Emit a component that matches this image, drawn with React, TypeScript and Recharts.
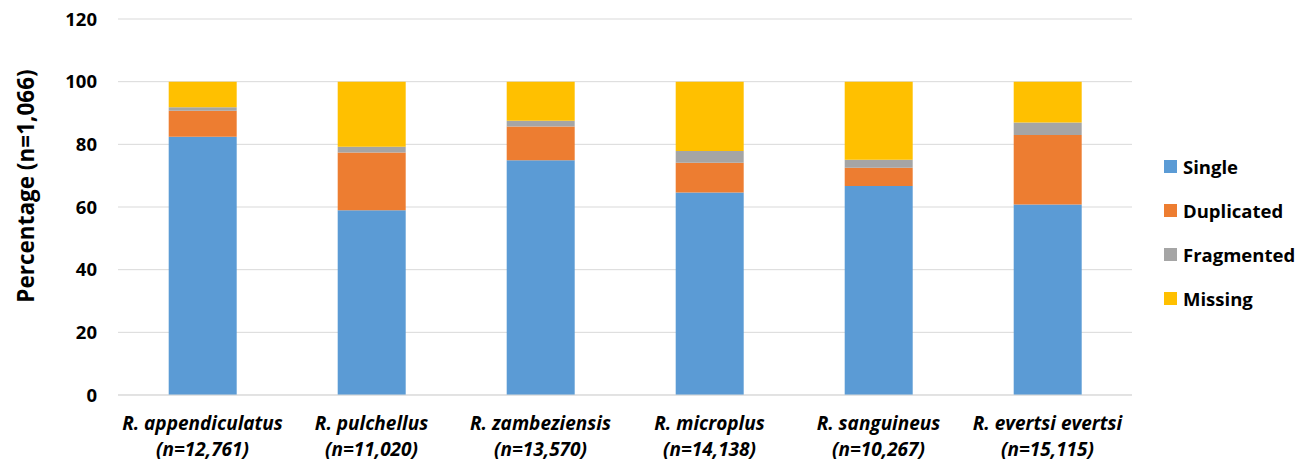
import React from "react";
import {
  BarChart,
  Bar,
  XAxis,
  YAxis,
  CartesianGrid,
  Legend,
} from "recharts";

const categories = [
  "R. appendiculatus",
  "R. pulchellus",
  "R. zambeziensis",
  "R. microplus",
  "R. sanguineus",
  "R. evertsi evertsi",
];
const geneCounts = ["12,761", "11,020", "13,570", "14,138", "10,267", "15,115"];

const single = [82.4, 59.0, 74.9, 64.6, 66.7, 60.8];
const duplicated = [8.3, 18.4, 10.8, 9.5, 5.8, 22.2];
const fragmented = [1.1, 1.8, 1.8, 3.8, 2.6, 4.0];
const missing = [8.2, 20.8, 12.5, 22.1, 24.9, 13.0];

const yTicks = [0, 20, 40, 60, 80, 100, 120];

const series = [
  { key: "Single", values: single, color: "#5B9BD5" },
  { key: "Duplicated", values: duplicated, color: "#ED7D31" },
  { key: "Fragmented", values: fragmented, color: "#A5A5A5" },
  { key: "Missing", values: missing, color: "#FFC000" },
];

const data = categories.map((name, i) => {
  const row: Record<string, string | number> = { name, count: geneCounts[i] };
  series.forEach((s) => {
    row[s.key] = s.values[i];
  });
  return row;
});

const FONT = "'Open Sans', Lato, sans-serif";

// two-line category label: species name, then gene count
function SpeciesTick(props: any) {
  const { x, y, payload, index } = props;
  return (
    <text
      x={x}
      y={y}
      textAnchor="middle"
      fill="#000"
      fontSize={19}
      fontWeight={700}
      fontStyle="italic"
      fontFamily={FONT}
    >
      <tspan x={x} dy={35}>
        {payload.value}
      </tspan>
      <tspan x={x} dy={26}>
        (n={geneCounts[index ?? categories.indexOf(payload.value)]})
      </tspan>
    </text>
  );
}

function YTitle(props: any) {
  const { viewBox } = props;
  const cx = viewBox.x + 25;
  const cy = viewBox.y + viewBox.height / 2 - 21;
  return (
    <text
      x={cx}
      y={cy}
      transform={`rotate(-90, ${cx}, ${cy})`}
      textAnchor="middle"
      dominantBaseline="central"
      fontSize={22.5}
      fontWeight={700}
      fontFamily={FONT}
      fill="#000"
    >
      Percentage (n=1,066)
    </text>
  );
}

function LegendList() {
  return (
    <div style={{ fontFamily: FONT }}>
      {series.map((s) => (
        <div
          key={s.key}
          style={{ height: 44, display: "flex", alignItems: "center" }}
        >
          <span
            style={{
              width: 13,
              height: 13,
              background: s.color,
              display: "inline-block",
              marginRight: 6,
            }}
          />
          <span style={{ fontSize: 18.5, fontWeight: 700, color: "#000" }}>
            {s.key}
          </span>
        </div>
      ))}
    </div>
  );
}

export default function App() {
  return (
    <div
      style={{
        position: "absolute",
        left: 0,
        top: 0,
        width: 1309,
        height: 464,
        background: "#fff",
      }}
    >
      <BarChart
        width={1309}
        height={464}
        data={data}
        margin={{ top: 19, right: 177, bottom: 0, left: 0 }}
        barCategoryGap="30%"
        style={{ fontFamily: FONT, overflow: "visible" }}
      >
        <CartesianGrid vertical={false} stroke="#D9D9D9" />
        <XAxis
          dataKey="name"
          height={69}
          tickLine={false}
          tickSize={0}
          tickMargin={0}
          axisLine={{ stroke: "#D9D9D9" }}
          interval={0}
          tick={<SpeciesTick />}
        />
        <YAxis
          width={118}
          domain={[0, 120]}
          ticks={yTicks}
          interval={0}
          axisLine={false}
          tickLine={false}
          tickSize={0}
          tickMargin={21}
          tick={{ fill: "#000", fontSize: 18.5, fontWeight: 700, fontFamily: FONT }}
          label={<YTitle />}
        />
        <Legend
          layout="vertical"
          align="center"
          verticalAlign="middle"
          content={<LegendList />}
          wrapperStyle={{ left: 1164, top: 144, width: 140 }}
        />
        {series.map((s) => (
          <Bar
            key={s.key}
            dataKey={s.key}
            stackId="busco"
            fill={s.color}
            isAnimationActive={false}
          />
        ))}
      </BarChart>
    </div>
  );
}
